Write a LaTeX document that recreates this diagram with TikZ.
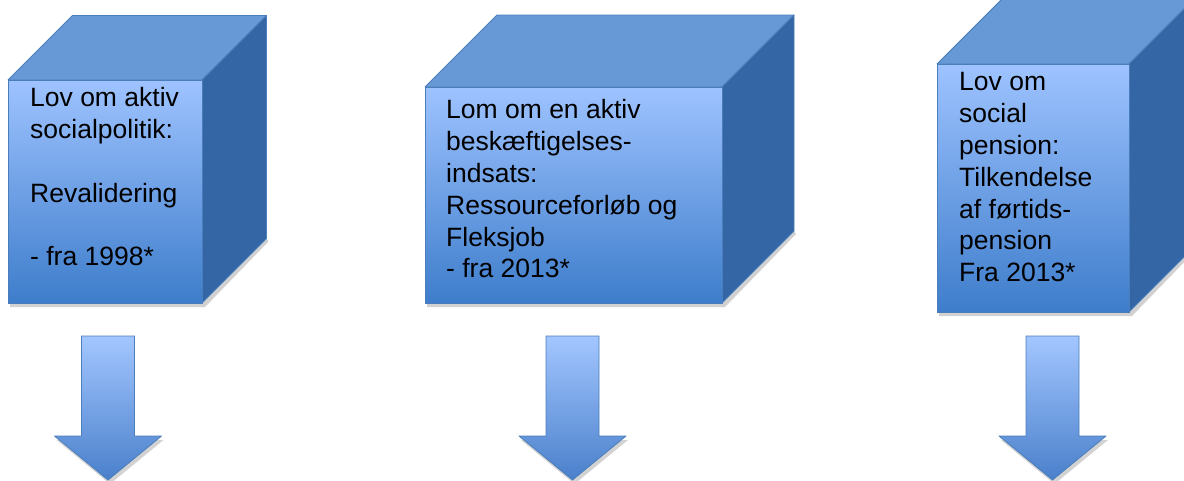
\documentclass[tikz,border=0pt]{standalone}
\usepackage{fontspec}
\setmainfont{Liberation Sans}

\definecolor{cubetop}{HTML}{6699D6}
\definecolor{cubeside}{HTML}{3465A4}
\definecolor{frontlight}{HTML}{9EC3FF}
\definecolor{frontdark}{HTML}{3E7DCB}
\definecolor{edgeblue}{HTML}{4A7EBB}
\definecolor{arrowlight}{HTML}{A3C6FF}
\definecolor{arrowdark}{HTML}{4A80CB}

\begin{document}
\begin{tikzpicture}[x=1pt,y=-1pt,
  face/.style={draw=edgeblue,line width=0.8pt,line join=round},
  lawtext/.style={anchor=north west,inner sep=0pt,align=left,
    font=\fontsize{26.5}{31.8}\selectfont}]
 \useasboundingbox (0,0) rectangle (1184,480);
 % cubes: front face corners and depth
 \foreach \xa/\ya/\xb/\yb/\dep in
  {
    8/80/202/303/64.5, 425/87/722/303/72, 937/64/1129/312/64.5
  }
  {
    \fill[black!18]
    (\xa+2,\yb) -- (\xb,\yb) -- (\xb+\dep,\yb-\dep) -- (\xb+\dep+2,\yb-\dep+3)
    -- (\xb+3,\yb+4) -- (\xa+2,\yb+4) -- cycle;
    \draw[face,fill=cubetop]
    (\xa,\ya) -- (\xa+\dep,\ya-\dep) -- (\xb+\dep,\ya-\dep) -- (\xb,\ya) -- cycle;
    \draw[face,fill=cubeside]
    (\xb,\ya) -- (\xb+\dep,\ya-\dep) -- (\xb+\dep,\yb-\dep) -- (\xb,\yb) -- cycle;
    \draw[face,top color=frontlight,bottom color=frontdark]
    (\xa,\ya) rectangle (\xb,\yb);
  }
 \node[lawtext] (law1) at (30,87.4)
  {Lov om aktiv\\socialpolitik:\\\strut\\Revalidering\\\strut\\- fra 1998*};
 \node[lawtext] (law2) at (446,99.4)
  {Lom om en aktiv\\beskæftigelses-\\indsats:\\Ressourceforløb og\\Fleksjob\\- fra 2013*};
 \node[lawtext] (law3) at (959,72.4)
  {Lov om\\social\\pension:\\Tilkendelse\\af førtids-\\pension\\Fra 2013*};
 % block arrows below the cubes
 \foreach \cx in {108,572.5,1052.5}
  {
    \fill[black!25,opacity=0.7]
    (\cx-53.5+2,440) -- (\cx+53.5+2,440) -- (\cx+2,484) -- cycle;
    \draw[face,top color=arrowlight,bottom color=arrowdark]
    (\cx-26.5,336) -- (\cx+26.5,336) -- (\cx+26.5,436) -- (\cx+53.5,436)
    -- (\cx,480) -- (\cx-53.5,436) -- (\cx-26.5,436) -- cycle;
  }
\end{tikzpicture}
\end{document}
